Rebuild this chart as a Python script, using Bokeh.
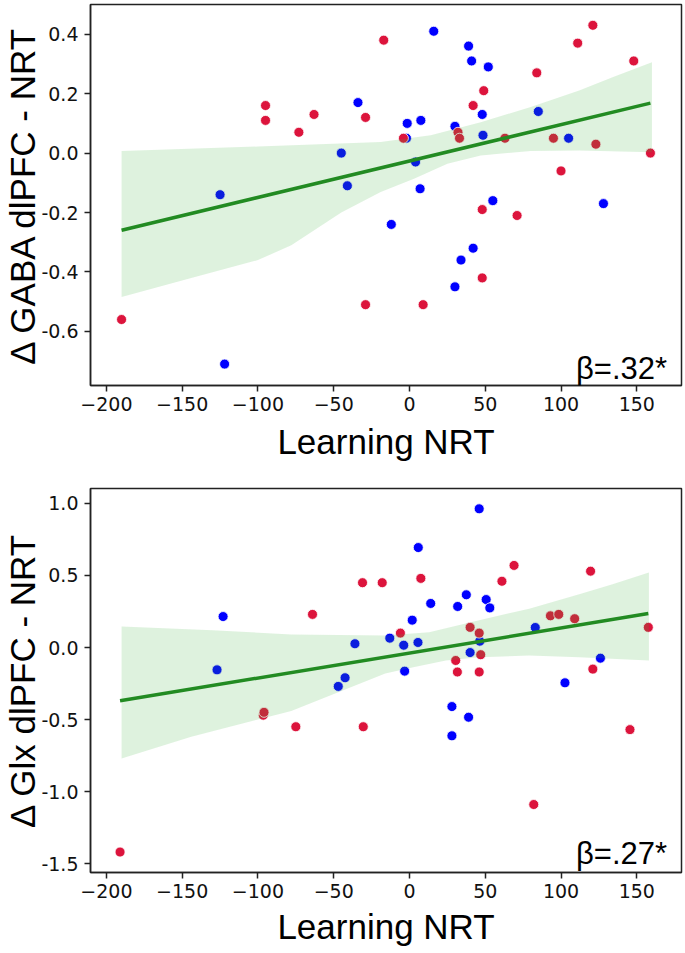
import numpy as np
from bokeh.plotting import figure
from bokeh.layouts import column
from bokeh.models import FixedTicker, Label
from bokeh.embed import file_html
from bokeh.resources import INLINE

# ---------------- data: top panel (GABA) ----------------
gaba_red_x = [-190, -95, -95, -63, -73, -29, -17, -29, -4, 9, 32, 33, 42, 48, 49, 48,
              63, 71, 84, 95, 100, 111, 121, 123, 148, 159]
gaba_red_y = [-0.56, 0.16, 0.11, 0.13, 0.07, 0.12, 0.38, -0.51, 0.05, -0.51, 0.07, 0.05,
              0.16, -0.19, 0.21, -0.42, 0.05, -0.21, 0.27, 0.05, -0.06, 0.37, 0.43, 0.03,
              0.31, 0.00]
gaba_blue_x = [-125, -122, -45, -41, -34, -12, -2, -1.5, 4, 7, 7.5, 16, 30, 30, 34, 39,
               41, 42, 48, 48.5, 52, 55, 85, 105, 128]
gaba_blue_y = [-0.14, -0.71, 0.00, -0.11, 0.17, -0.24, 0.05, 0.10, -0.03, -0.12, 0.11,
               0.41, 0.09, -0.45, -0.36, 0.36, 0.31, -0.32, 0.13, 0.06, 0.29, -0.16, 0.14,
               0.05, -0.17]
gaba_ci_up_x = [-190, -100, -19, 14, 47, 80, 112, 134, 160]
gaba_ci_up_y = [0.007, 0.022, 0.037, 0.06, 0.104, 0.155, 0.211, 0.255, 0.306]
gaba_ci_lo_x = [-190, -144, -100, -78, -45, -19, 3, 25, 47, 80, 112, 160]
gaba_ci_lo_y = [-0.484, -0.42, -0.36, -0.31, -0.20, -0.131, -0.086, -0.036, -0.008, 0.007,
                0.009, 0.003]

# ---------------- data: bottom panel (Glx) ----------------
glx_red_x = [-191, -96.5, -96, -75, -64, -31, -30.5, -18, -6, 7.5, 30.5, 31.6, 40, 46, 46,
             47, 61, 69, 82, 93, 98.5, 109, 119.5, 121, 145.5, 157.6]
glx_red_y = [-1.42, -0.47, -0.45, -0.55, 0.23, 0.45, -0.55, 0.45, 0.10, 0.48, -0.09, -0.17,
             0.14, 0.10, -0.17, -0.05, 0.46, 0.57, -1.09, 0.22, 0.23, 0.20, 0.53, -0.15,
             -0.57, 0.14]
glx_blue_x = [-127, -123, -47, -42.5, -36, -13, -3.8, -3.2, 1.8, 5.6, 5.8, 14, 28, 28, 31.8,
              37.5, 39, 40, 46, 46.4, 50.6, 53, 83, 102.6, 126]
glx_blue_y = [-0.155, 0.215, -0.27, -0.21, 0.026, 0.065, 0.016, -0.164, 0.19, 0.035, 0.694,
              0.306, -0.41, -0.613, 0.285, 0.366, -0.484, -0.035, 0.963, 0.044, 0.333, 0.275,
              0.139, -0.245, -0.074]
glx_ci_up_x = [-190, -130, -78, -16, 13, 46, 79, 112, 134, 158]
glx_ci_up_y = [0.146, 0.12, 0.09, 0.083, 0.106, 0.19, 0.27, 0.37, 0.44, 0.52]
glx_ci_lo_x = [-190, -144, -78, -16, 2.5, 24, 46, 79, 112, 158]
glx_ci_lo_y = [-0.77, -0.62, -0.44, -0.18, -0.137, -0.09, -0.067, -0.056, -0.067, -0.09]

x_ticks = [-200, -150, -100, -50, 0, 50, 100, 150]
gaba_ticks = [-0.6, -0.4, -0.2, 0.0, 0.2, 0.4]
glx_ticks = [-1.5, -1.0, -0.5, 0.0, 0.5, 1.0]

RED = "#dc143c"
BLUE = "#0000ff"
GREEN = "#228b22"
BAND = "#3cb43c"
LABEL_FONT = "Liberation Sans"
TICK_FONT = "DejaVu Sans"


def make_panel(rx, ry, bx, by, upx, upy, lox, loy, yticks, yrange, ylabel, beta,
               height, mtop, mbottom, beta_y, xlab_standoff):
    p = figure(width=684, height=height, x_range=(-210.5, 179.5), y_range=yrange,
               output_backend="svg", toolbar_location=None,
               min_border_left=90, min_border_right=3,
               min_border_top=mtop, min_border_bottom=mbottom)
    p.grid.visible = False
    p.outline_line_color = "#222222"
    p.outline_line_width = 1.5
    p.background_fill_color = "white"

    # scatter
    p.scatter(bx, by, size=10, fill_color=BLUE, line_color="white", line_width=0.8)
    p.scatter(rx, ry, size=10, fill_color=RED, line_color="white", line_width=0.8)

    # CI band (drawn over points, like seaborn)
    band_x = list(upx) + list(lox)[::-1]
    band_y = list(upy) + list(loy)[::-1]
    p.patch(band_x, band_y, fill_color=BAND, fill_alpha=0.17, line_color=None)

    # regression line
    allx = np.array(list(rx) + list(bx), dtype=float)
    ally = np.array(list(ry) + list(by), dtype=float)
    slope, icpt = np.polyfit(allx, ally, 1)
    lx = np.array([allx.min(), allx.max()])
    p.line(lx, slope * lx + icpt, line_color=GREEN, line_width=3.5)

    for ax in (p.xaxis, p.yaxis):
        ax.axis_line_color = "#222222"
        ax.axis_line_width = 1.5
        ax.major_tick_line_color = "#222222"
        ax.major_tick_line_width = 1.5
        ax.major_tick_out = 6
        ax.major_tick_in = 0
        ax.minor_tick_line_color = None
        ax.major_label_text_font = TICK_FONT
        ax.major_label_text_font_size = "19px"
        ax.major_label_text_color = "#111111"
        ax.axis_label_text_font = LABEL_FONT
        ax.axis_label_text_font_size = "35px"
        ax.axis_label_text_font_style = "normal"
        ax.axis_label_text_color = "black"

    p.xaxis.ticker = FixedTicker(ticks=x_ticks)
    p.xaxis.major_label_overrides = {t: (("\u2212" + str(abs(t))) if t < 0 else str(t)) for t in x_ticks}
    p.xaxis.axis_label = "Learning NRT"
    p.xaxis.major_label_standoff = 5
    p.xaxis.axis_label_standoff = xlab_standoff

    p.yaxis.ticker = FixedTicker(ticks=yticks)
    p.yaxis.major_label_overrides = {t: f"{t:.1f}" for t in yticks}
    p.yaxis.axis_label = ylabel
    p.yaxis.major_label_standoff = 6
    p.yaxis.axis_label_standoff = -4

    p.add_layout(Label(x=170, y=beta_y, text=beta, text_align="right",
                       text_baseline="alphabetic", text_font=LABEL_FONT,
                       text_font_size="31px", text_color="black"))
    return p


p1 = make_panel(gaba_red_x, gaba_red_y, gaba_blue_x, gaba_blue_y,
                gaba_ci_up_x, gaba_ci_up_y, gaba_ci_lo_x, gaba_ci_lo_y,
                gaba_ticks, (-0.782, 0.50), "\u0394 GABA dlPFC - NRT", "\u03b2=.32*",
                height=486, mtop=4, mbottom=101, beta_y=-0.724, xlab_standoff=8)
p2 = make_panel(glx_red_x, glx_red_y, glx_blue_x, glx_blue_y,
                glx_ci_up_x, glx_ci_up_y, glx_ci_lo_x, glx_ci_lo_y,
                glx_ticks, (-1.562, 1.104), "\u0394 Glx dlPFC - NRT", "\u03b2=.27*",
                height=466, mtop=2, mbottom=80, beta_y=-1.43, xlab_standoff=6)

layout = column(p1, p2, spacing=0)
open("out.html", "w").write(file_html(layout, INLINE))
